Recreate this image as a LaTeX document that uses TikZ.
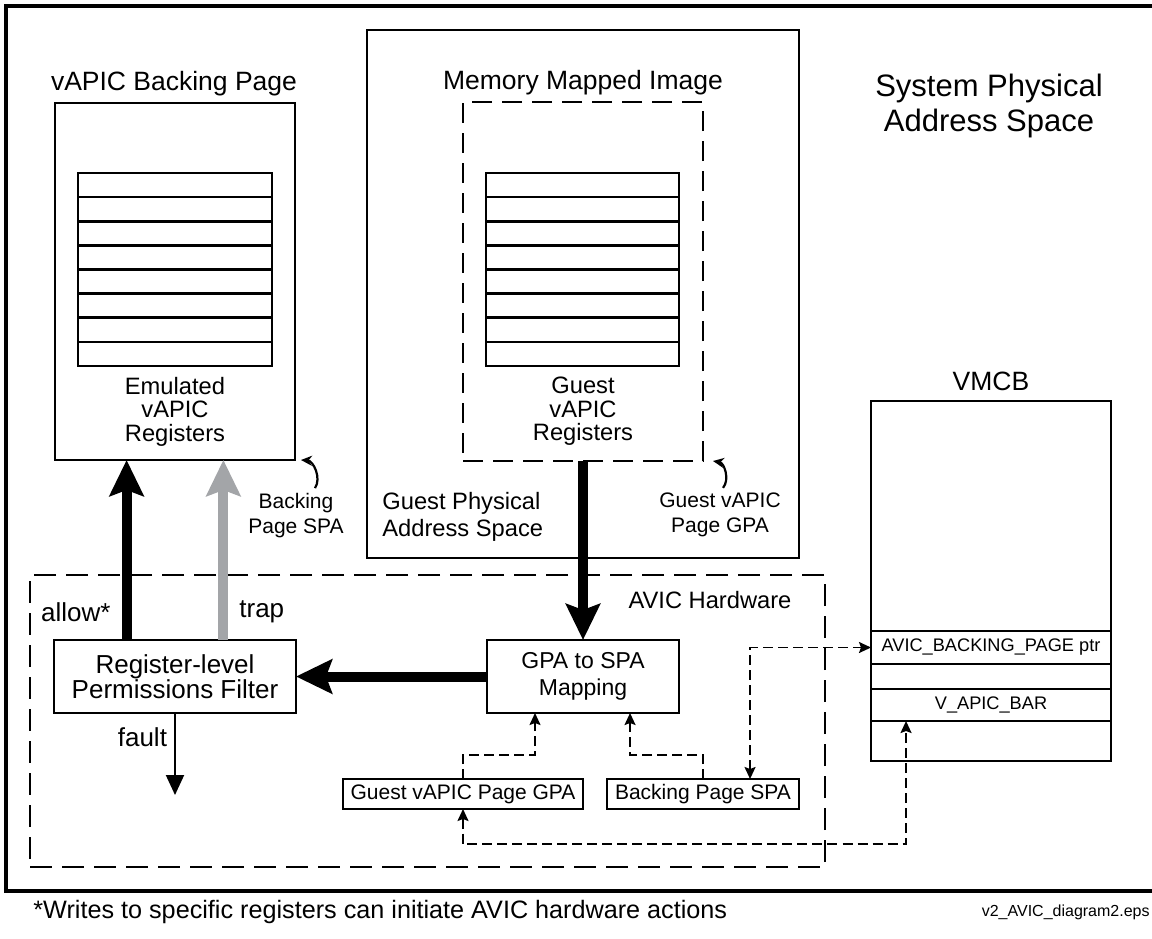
\documentclass[tikz,border=0pt]{standalone}
\usepackage{fontspec}
\setmainfont{Liberation Sans}
\usetikzlibrary{arrows.meta,positioning,calc}
\definecolor{trapGray}{HTML}{A3A5A8}
\newcommand{\ttlfont}{\fontsize{13.25}{15}\selectfont}
\newcommand{\spacefont}{\fontsize{15.5}{17.5}\selectfont}
\newcommand{\regfont}{\fontsize{11.85}{11.75}\selectfont}
\newcommand{\gpsfont}{\fontsize{11.85}{13.5}\selectfont}
\newcommand{\hwfont}{\fontsize{13}{12.5}\selectfont}
\newcommand{\mapfont}{\fontsize{11.5}{13.5}\selectfont}
\newcommand{\smlfont}{\fontsize{10.5}{12.2}\selectfont}
\newcommand{\vmcbfont}{\fontsize{9.1}{11}\selectfont}
\newcommand{\notefont}{\fontsize{12.6}{15}\selectfont}
\newcommand{\epsfont}{\fontsize{8}{10}\selectfont}
\tikzset{
  box/.style   ={draw, line width=1.2pt, outer sep=0pt, inner sep=0pt, align=center},
  dbox/.style  ={box, dash pattern=on 10pt off 5pt},
  lbl/.style   ={inner sep=0pt, align=center},
  bigarr/.style={-{Stealth[length=18pt,width=17pt,inset=3pt]}, line width=5pt},
  dlink/.style ={line width=0.9pt, dash pattern=on 5pt off 2.5pt, >={Stealth[length=6pt,width=5.5pt,inset=1pt]}},
  curv/.style  ={-{Stealth[length=5.5pt,width=5pt]}, line width=1.1pt},
}

\begin{document}
\begin{tikzpicture}[x=0.5pt, y=-0.5pt]
  \useasboundingbox (0,0) rectangle (1152,938);

  % system physical address space frame
  \node[box, line width=1.6pt, minimum width=578pt, minimum height=442.5pt] (spas) at (584,448.5) {};
  \node[lbl, font=\spacefont] (spasttl) at (989,105.5) {System Physical\\Address Space};

  % backing page with its register stack
  \node[box, minimum width=120pt, minimum height=178.5pt] (backing) at (175,281.5) {};
  \node[lbl, font=\ttlfont, anchor=base] (backingttl) at (174,90) {vAPIC Backing Page};
  \foreach \r in {0,...,7}
    \draw[line width=1.3pt] (78,{173+\r*24.125}) rectangle ++(194,24.125);
  \node[lbl, font=\regfont] (emuregs) at (175,411.5) {Emulated\\vAPIC\\Registers};

  % guest physical address space, memory mapped image
  \node[box, minimum width=216pt, minimum height=264pt] (gpas) at (583,294) {};
  \node[lbl, font=\ttlfont, anchor=base] (mmittl) at (583,89) {Memory Mapped Image};
  \node[dbox, minimum width=120pt, minimum height=179.5pt] (mmi) at (583,281.5) {};
  \foreach \r in {0,...,7}
    \draw[line width=1.3pt] (486,{173+\r*24.125}) rectangle ++(193,24.125);
  \node[lbl, font=\regfont] (guestregs) at (583,411.5) {Guest\\vAPIC\\Registers};
  \node[lbl, font=\gpsfont, align=left, anchor=west] (gpasttl) at (382,516.5) {Guest Physical\\Address Space};

  % page address labels
  \node[lbl, font=\smlfont] (bspalbl) at (296,515.5) {Backing\\Page SPA};
  \node[lbl, font=\smlfont] (gpgalbl) at (720,515) {Guest vAPIC\\Page GPA};
  \draw[curv] ([xshift=9.5pt,yshift=2.5pt]bspalbl.north) to[bend right=60] ([xshift=3pt]backing.south east);
  \draw[curv] ([xshift=1.5pt,yshift=2.5pt]gpgalbl.north) to[bend right=60] ([xshift=5pt]mmi.south east);

  % AVIC hardware
  \node[box, line width=1.4pt, dash pattern=on 11pt off 5pt, minimum width=397.5pt, minimum height=146pt] (avic) at (427.5,721) {};
  \node[lbl, font=\gpsfont] (avicttl) at (710,600) {AVIC Hardware};
  \node[box, font=\hwfont, minimum width=121pt, minimum height=36.5pt] (filter) at (175,676.5) {Register-level\\Permissions Filter};
  \node[box, font=\mapfont, minimum width=96pt, minimum height=36.5pt] (mapping) at (583,676.5) {GPA to SPA\\Mapping};
  \node[box, line width=1pt, font=\smlfont, minimum width=120pt, minimum height=15pt] (ggpa) at (463,794) {Guest vAPIC Page GPA};
  \node[box, line width=1pt, font=\smlfont, minimum width=96pt, minimum height=15pt] (bspa) at (703,794) {Backing Page SPA};

  % VMCB
  \node[lbl, font=\ttlfont, anchor=base] (vmcbttl) at (991,390) {VMCB};
  \node[box, minimum width=120pt, minimum height=115pt] (vmtop) at (991,516) {};
  \node[box, font=\vmcbfont, minimum width=120pt, minimum height=16.5pt, below=0pt of vmtop] (bkptr) {AVIC\_BACKING\_PAGE ptr};
  \node[box, minimum width=120pt, minimum height=12.5pt, below=0pt of bkptr] (vmmid) {};
  \node[box, font=\vmcbfont, minimum width=120pt, minimum height=16pt, below=0pt of vmmid] (vbar) {V\_APIC\_BAR};
  \node[box, minimum width=120pt, minimum height=20pt, below=0pt of vbar] (vmbot) {};

  % main data path
  \draw[bigarr] (mmi.south) -- (mapping.north);
  \draw[bigarr] (mapping.west) -- (filter.east);
  \coordinate (allowft) at ($(filter.north west)!0.30!(filter.north east)$);
  \coordinate (trapft) at ($(filter.north west)!0.70!(filter.north east)$);
  \draw[bigarr] (allowft) -- (allowft |- backing.south)
    node[pos=0.155, left=5.5pt, font=\hwfont, inner sep=0pt] (allowlbl) {allow*};
  \draw[bigarr, color=trapGray] (trapft) -- (trapft |- backing.south)
    node[pos=0.155, right=5.5pt, font=\hwfont, inner sep=0pt, text=black] (traplbl) {trap};
  \coordinate (faultend) at (175,795);
  \draw[-{Triangle[length=10pt,width=9pt]}, line width=1pt] (filter.south) -- (faultend)
    node[pos=0.29, left=3.5pt, font=\hwfont, inner sep=0pt] (faultlbl) {fault};

  % address lookups
  \coordinate (mapin1) at ($(mapping.south west)!0.25!(mapping.south east)$);
  \coordinate (mapin2) at ($(mapping.south west)!0.745!(mapping.south east)$);
  \coordinate (spaout) at ($(bspa.north west)!0.745!(bspa.north east)$);
  \coordinate (barin) at ($(vbar.south west)!0.146!(vbar.south east)$);
  \draw[dlink, ->] (ggpa.north) -- ++(0,-24) -| (mapin1);
  \draw[dlink, ->] (bspa.north) -- ++(0,-24) -| (mapin2);
  \draw[dlink, <->] (spaout) |- (bkptr.west);
  \draw[dlink, <->] (ggpa.south) -- ++(0,35) -| (barin);

  % footer
  \node[lbl, font=\notefont, anchor=base west] (footnote) at (33,918) {*Writes to specific registers can initiate AVIC hardware actions};
  \node[lbl, font=\epsfont, anchor=base east] (epsname) at (1150,916) {v2\_AVIC\_diagram2.eps};
\end{tikzpicture}
\end{document}
